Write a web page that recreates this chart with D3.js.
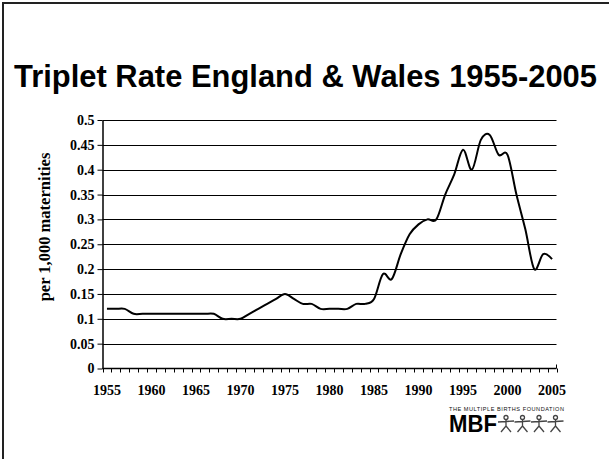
<!DOCTYPE html>
<html><head><meta charset="utf-8">
<script src="https://cdn.jsdelivr.net/npm/d3@7"></script>
<style>body{margin:0;background:#fff}svg{display:block}</style>
</head><body><svg id="c" width="609" height="459"></svg>
<script>
const years = d3.range(1955, 2006);
const rates = [0.12,0.12,0.12,0.11,0.11,0.11,0.11,0.11,0.11,0.11,
  0.11,0.11,0.11,0.10,0.10,0.10,0.11,0.12,0.13,0.14,
  0.15,0.14,0.13,0.13,0.12,0.12,0.12,0.12,0.13,0.13,
  0.14,0.19,0.18,0.23,0.27,0.29,0.30,0.30,0.35,0.39,
  0.44,0.40,0.46,0.47,0.43,0.43,0.35,0.28,0.20,0.23,0.22];
const yTicks = [0,0.05,0.1,0.15,0.2,0.25,0.3,0.35,0.4,0.45,0.5];
const xLabels = [1955,1960,1965,1970,1975,1980,1985,1990,1995,2000,2005];
const title = "Triplet Rate England & Wales 1955-2005";
const yTitle = "per 1,000 maternities";

const svg = d3.select("#c");
const L = 102.5, R = 556.5, T = 120, B = 368.5;
const x = d3.scaleBand().domain(years).range([L, R]);
const y = d3.scaleLinear().domain([0, 0.5]).range([B, T]);
const serif = "Liberation Serif, Times New Roman, serif";

// frame
svg.append("path").attr("d", "M3,459V3H609").attr("fill","none").attr("stroke","#222").attr("stroke-width",2);

svg.append("text").attr("x", 14).attr("y", 87)
  .attr("font-family","Liberation Sans, Arial, sans-serif").attr("font-weight","bold")
  .attr("font-size", 31).attr("textLength", 583).attr("lengthAdjust","spacingAndGlyphs").text(title);

// gridlines
svg.append("g").selectAll("line").data(yTicks.slice(1)).join("line")
  .attr("x1", L).attr("x2", R).attr("y1", d => Math.round(y(d))+0.5).attr("y2", d => Math.round(y(d))+0.5)
  .attr("stroke", "#000").attr("stroke-width", 1);

// y axis
const ya = svg.append("g").attr("transform", `translate(${L},0)`)
  .call(d3.axisLeft(y).tickValues(yTicks).tickSize(5).tickPadding(3).tickSizeOuter(0).tickFormat(d => d3.format("")(d)));
ya.select(".domain").attr("stroke","#000").attr("stroke-width",1.5);
ya.selectAll("text").attr("font-family",serif).attr("font-weight","bold").attr("font-size",14).attr("fill","#000");

// x axis
const xa = svg.append("g").attr("transform", `translate(0,${B})`)
  .call(d3.axisBottom(x).tickValues(xLabels).tickSize(0).tickFormat(d => d));
xa.select(".domain").remove();
xa.selectAll("text").attr("dy", 0).attr("y", 26).attr("font-family",serif).attr("font-weight","bold").attr("font-size",14).attr("fill","#000");
svg.append("line").attr("x1", L).attr("x2", R).attr("y1", B).attr("y2", B).attr("stroke","#000").attr("stroke-width",1.5);
const bounds = years.map(d => x(d)).concat([R]);
svg.append("g").selectAll("line").data(bounds).join("line")
  .attr("x1", d => Math.round(d)+0.5).attr("x2", d => Math.round(d)+0.5).attr("y1", B).attr("y2", B+4)
  .attr("stroke","#000").attr("stroke-width",1);
svg.append("line").attr("x1", R).attr("x2", R).attr("y1", B).attr("y2", B-4).attr("stroke","#000");

// y title
svg.append("text").attr("transform", `translate(50,227) rotate(-90)`).attr("text-anchor","middle")
  .attr("font-family",serif).attr("font-weight","bold").attr("font-size",16.5)
  .text(yTitle);

// line
const line = d3.line().x((d,i) => x(years[i]) + x.bandwidth()/2).y(d => y(d)).curve(d3.curveCardinal.tension(0));
svg.append("path").datum(rates).attr("d", line).attr("fill","none").attr("stroke","#000").attr("stroke-width",2);

// logo
const lg = svg.append("g");
lg.append("text").attr("x", 449).attr("y", 411).attr("font-family","Liberation Sans, Arial, sans-serif")
  .attr("font-size", 5.6).attr("textLength", 115).attr("fill","#111").text("THE MULTIPLE BIRTHS FOUNDATION");
lg.append("text").attr("x", 449).attr("y", 432).attr("font-family","Liberation Sans Narrow, Liberation Sans, Arial, sans-serif")
  .attr("font-weight","bold").attr("font-size", 23).attr("textLength", 48).attr("lengthAdjust","spacingAndGlyphs").attr("fill","#000").text("MBF");
for (let i = 0; i < 4; i++) {
  const cx = 506 + i * 16.5;
  const g = lg.append("g").attr("transform", `translate(${cx},415)`).attr("fill","none").attr("stroke","#444").attr("stroke-width",1.3);
  g.append("circle").attr("cx", 0).attr("cy", 2.5).attr("r", 2);
  g.append("path").attr("d", "M-8,7 L8,6 M0,4.5 L0,11 M0,11 L-5,17 M0,11 L5,17");
}
</script></body></html>
